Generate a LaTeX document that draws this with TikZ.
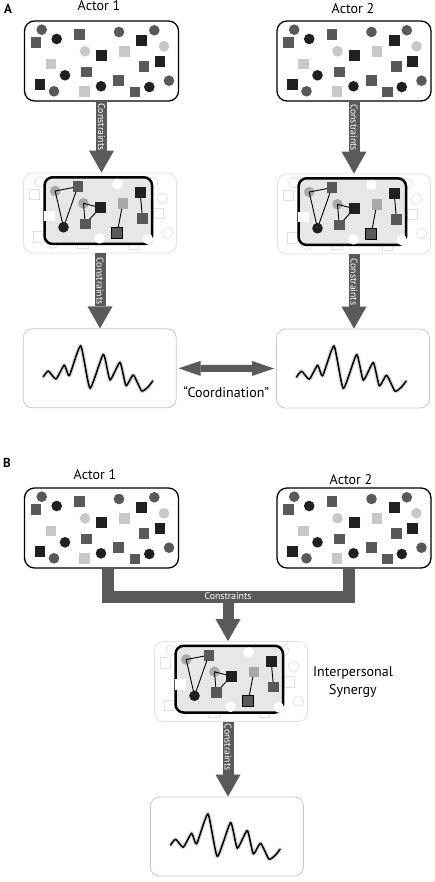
\documentclass[tikz,border=0pt]{standalone}
\usepackage{fontspec}
\setmainfont{PT Sans}
\usetikzlibrary{arrows.meta,calc}
\definecolor{cdg}{HTML}{58595B}
\definecolor{cbk}{HTML}{231F20}
\definecolor{clg}{HTML}{C7C8CA}
\definecolor{cmg}{HTML}{A7A9AC}
\definecolor{cfaint}{HTML}{E1E1E1}
\definecolor{cinner}{HTML}{E6E7E8}
\definecolor{carrow}{HTML}{5A5A5C}
\tikzset{
  abox/.style={draw=black, line width=1.3pt, fill=white, rounded corners=10pt, minimum width=154pt, minimum height=80pt, inner sep=0pt},
  fbox/.style={draw=cfaint, line width=0.8pt, fill=white, rounded corners=9pt, minimum width=153pt, minimum height=80pt, inner sep=0pt},
  wbox/.style={draw=black!22, line width=0.8pt, fill=white, rounded corners=9pt, minimum width=153pt, minimum height=79pt, inner sep=0pt},
  conarrow/.style={draw=carrow, line width=11pt, -{Triangle[width=25pt,length=22pt,line width=0pt]}},
  dblarrow/.style={draw=carrow, line width=7pt, {Triangle[width=15pt,length=22pt,line width=0pt]}-{Triangle[width=15pt,length=22pt,line width=0pt]}},
  bar/.style={draw=carrow, line width=12pt, line join=miter},
  ctext/.style={text=white, font=\fontsize{9.8}{10}\selectfont, inner sep=0pt},
  lbl/.style={font=\fontsize{14}{18}\selectfont, inner sep=0pt},
  plbl/.style={font=\bfseries\fontsize{13}{14}\selectfont, inner sep=0pt},
  fshape/.style={draw=cfaint, fill=white, line width=0.7pt},
  wave/.style={line width=1.5pt, black, line join=round, line cap=round},
  waveglow/.style={line width=4pt, black!15, line join=round, line cap=round},
}
\newcommand\circlistdg{-59.8/-31.3,17.5/-29,52.8/-30.7,-47.5/30.3,67.5/19.7}
\newcommand\circlistbk{-44.8/-22,-36.5/14.3,-0.5/25.3,47.8/26}
\newcommand\circlistlg{-16.5/-9.7,62.5/-14.7}
\newcommand\sqlistdg{-65.5/-18.7,-22.2/-26.3,-14.8/11,42.5/5.3,17.2/19.7,33.5/31}
\newcommand\sqlistbk{0.2/-5.3,40.2/-20.3,58.5/0.3,-61.5/23.7}
\newcommand\sqlistlg{22.8/-9.7,-50.5/3,-17.2/30.3}
\newcommand\mysq[2]{({#1-5.3},{#2-5.3}) rectangle ({#1+5.3},{#2+5.3})}
\newcommand\dotpat{%
  \foreach \x/\y in \circlistdg {\fill[cdg] (\x,\y) circle (5.3pt);}
  \foreach \x/\y in \circlistbk {\fill[cbk] (\x,\y) circle (5.3pt);}
  \foreach \x/\y in \circlistlg {\fill[clg] (\x,\y) circle (5.3pt);}
  \foreach \x/\y in \sqlistdg {\fill[cdg] \mysq{\x}{\y};}
  \foreach \x/\y in \sqlistbk {\fill[cbk] \mysq{\x}{\y};}
  \foreach \x/\y in \sqlistlg {\fill[clg] \mysq{\x}{\y};}
}
\newcommand\synpat{%
  \foreach \x/\y in \circlistdg {\filldraw[fshape] (\x,\y) circle (5.3pt);}
  \foreach \x/\y in \circlistbk {\filldraw[fshape] (\x,\y) circle (5.3pt);}
  \foreach \x/\y in \circlistlg {\filldraw[fshape] (\x,\y) circle (5.3pt);}
  \foreach \x/\y in \sqlistdg {\filldraw[fshape] \mysq{\x}{\y};}
  \foreach \x/\y in \sqlistbk {\filldraw[fshape] \mysq{\x}{\y};}
  \foreach \x/\y in \sqlistlg {\filldraw[fshape] \mysq{\x}{\y};}
  \fill[cinner, rounded corners=8pt] (-55.4,-35.7) rectangle (52,31);
  \fill[cmg] (-44.8,-22) circle (5.3pt);
  \fill[cmg] (-16.5,-9.7) circle (5.3pt);
  \draw[line width=0.9pt] (-44.8,-22) -- (-22.2,-26.3) -- (-36.5,14.3) -- cycle;
  \draw[line width=0.9pt] (-16.5,-9.7) -- (0.2,-5.3) -- (-14.8,11) -- cycle;
  \draw[line width=0.9pt] (22.8,-9.7) -- (17.2,19.7);
  \draw[line width=0.9pt] (40.2,-20.3) -- (42.5,5.3);
  \fill[cdg] \mysq{-22.2}{-26.3};
  \fill[cdg] \mysq{-14.8}{11};
  \fill[cdg] \mysq{42.5}{5.3};
  \fill[cbk] \mysq{0.2}{-5.3};
  \fill[cbk] \mysq{40.2}{-20.3};
  \fill[cmg] \mysq{22.8}{-9.7};
  \filldraw[fill=cdg, draw=black, line width=0.9pt] \mysq{17.2}{19.7};
  \fill[cbk] (-36.5,14.3) circle (5.3pt);
  \draw[line width=2.5pt, rounded corners=8pt] (-55.4,-35.7) rectangle (52,31);
  \fill[white] (17.5,-29) circle (5.3pt);
  \fill[white] (-0.5,25.3) circle (5.3pt);
  \fill[white] (47.8,26) circle (5.3pt);
  \fill[white] \mysq{-50.5}{3};
}
\newcommand\wavepath{plot[smooth, tension=0.3] coordinates {(-56.4,8.4) (-51.4,2.7) (-43.7,10.7) (-35.4,-3.3) (-30.4,7.4) (-19,-22.6) (-9.7,20) (3.6,-14) (10.3,11.7) (20.3,-6) (26.3,17.4) (33.6,6.7) (42,22.7) (48.6,18.4) (53,12.7)}}
\newcommand\wavepat{%
  \draw[waveglow] \wavepath;
  \draw[wave] \wavepath;
}
\begin{document}
\begin{tikzpicture}[x=1pt, y=-1pt]
\useasboundingbox[fill=white] (0,0) rectangle (435,882);
% ---------- Panel A ----------
\node[plbl] (pa) at (8,9) {A};
\node[lbl] (t1) at (99,5.5) {Actor 1};
\node[lbl] (t2) at (353,9) {Actor 2};
\node[abox] (a1) at (101.5,61) {};
\node[abox] (a2) at (354,61) {};
\begin{scope}[shift={(a1.center)}]\dotpat\end{scope}
\begin{scope}[shift={(a2.center)}]\dotpat\end{scope}
\node[fbox] (m1) at (100,213) {};
\node[fbox] (m2) at (354,214) {};
\begin{scope}[shift={(m1.center)}]\synpat\end{scope}
\begin{scope}[shift={(m2.center)}]\synpat\end{scope}
\node[wbox] (w1) at (99.7,368.3) {};
\node[wbox] (w2) at (353,368.5) {};
\begin{scope}[shift={(w1.center)}]\wavepat\end{scope}
\begin{scope}[shift={(w2.center)}]\wavepat\end{scope}
\draw[conarrow] (a1.south) -- (a1.south |- m1.north) node[ctext, pos=0.36, rotate=-90] {Constraints};
\draw[conarrow] (a2.south) -- (a2.south |- m2.north) node[ctext, pos=0.36, rotate=-90] {Constraints};
\draw[conarrow] (m1.south) -- (m1.south |- w1.north) node[ctext, pos=0.37, rotate=-90] {Constraints};
\draw[conarrow] (m2.south) -- (m2.south |- w2.north) node[ctext, pos=0.37, rotate=-90] {Constraints};
\draw[dblarrow, shorten <=2pt, shorten >=2pt] (w1.east) -- (w2.west) node[lbl, midway, below=15pt] {“Coordination”};
% ---------- Panel B ----------
\node[plbl] (pb) at (7,463) {B};
\node[lbl] (t3) at (95,475) {Actor 1};
\node[lbl] (t4) at (351,480) {Actor 2};
\node[abox] (b1) at (101.5,528) {};
\node[abox] (b2) at (354,528) {};
\begin{scope}[shift={(b1.center)}]\dotpat\end{scope}
\begin{scope}[shift={(b2.center)}]\dotpat\end{scope}
\node[fbox] (syn) at (231,681.5) {};
\begin{scope}[shift={(syn.center)}]\synpat\end{scope}
\node[lbl, align=center] (synl) at (353,682) {Interpersonal\\Synergy};
\node[wbox] (w3) at (227,836.5) {};
\begin{scope}[shift={(w3.center)}]\wavepat\end{scope}
\coordinate (jn) at (228,596.5);
\draw[bar] ([xshift=6pt]b1.south) |- (jn) -| ([xshift=-5.5pt]b2.south);
\draw[conarrow] (jn) -- (jn |- syn.north);
\node[ctext] (ctb) at (jn) {Constraints};
\draw[conarrow] (jn |- syn.south) -- (jn |- w3.north) node[ctext, pos=0.34, rotate=-90] {Constraints};
\end{tikzpicture}
\end{document}
